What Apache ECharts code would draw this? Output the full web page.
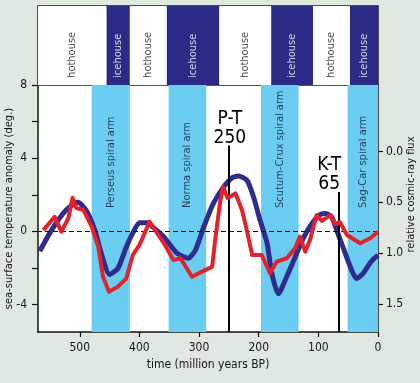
<!DOCTYPE html>
<html>
<head>
<meta charset="utf-8">
<script src="https://cdn.jsdelivr.net/npm/echarts@6/dist/echarts.min.js"></script>
<style>
html,body{margin:0;padding:0;background:#dfe9df;}
#chart{width:420px;height:383px;}
</style>
</head>
<body>
<div id="chart"></div>
<script>
// ---- data ----
const ageTicks = [0, 100, 200, 300, 400, 500];
const tempTicks = [-4, -2, 0, 2, 4, 6, 8];
const tempLabels = [-4, 0, 4, 8];
const fluxTicks = [0, 0.5, 1.0, 1.5];

const climateBounds = [570, 455, 416, 354, 266, 179, 109, 47, 0];
const climateStates = ['hothouse', 'icehouse', 'hothouse', 'icehouse', 'hothouse', 'icehouse', 'hothouse', 'icehouse'];

const armStart = [480, 351, 196, 51];
const armEnd = [416, 288, 133, 0];
const armNames = ['Perseus spiral arm', 'Norma spiral arm', 'Scutum-Crux spiral arm', 'Sag-Car spiral arm'];

const eventAges = [250, 65];
const eventNames = ['P-T', 'K-T'];

// red: sea-surface temperature anomaly (deg.)
const redAge = [561, 542, 531, 519, 512, 506, 494, 480, 469, 461, 451, 436, 422, 411, 400, 383, 359, 343, 331, 312, 295, 278, 273, 265, 260, 252, 239, 228, 220, 211, 195, 181, 170, 153, 139, 131, 122, 114, 103, 94, 80, 72, 64, 52, 30, 13, 0];
const redTemp = [0.07, 0.79, -0.02, 0.73, 1.84, 1.28, 1.17, 0.26, -0.84, -2.48, -3.30, -3.02, -2.57, -1.29, -0.75, 0.53, -0.64, -1.57, -1.47, -2.48, -2.20, -1.93, -0.47, 1.53, 2.44, 1.81, 2.08, 1.17, 0.07, -1.29, -1.29, -2.29, -1.66, -1.47, -0.93, -0.29, -1.11, -0.47, 0.89, 0.57, 0.89, 0.40, 0.51, -0.20, -0.65, -0.38, -0.02];

// blue: relative cosmic-ray flux (inverted right axis)
const blueAge = [567, 550, 528, 514, 503, 489, 475, 464, 450, 436, 422, 411, 400, 386, 382, 359, 337, 318, 306, 292, 276, 259, 245, 234, 220, 209, 198, 186, 178, 167, 153, 139, 125, 111, 97, 89, 78, 67, 55, 44, 36, 25, 11, 0];
const blueFlux = [0.98, 0.80, 0.61, 0.53, 0.50, 0.58, 0.77, 1.00, 1.21, 1.15, 0.94, 0.80, 0.70, 0.70, 0.72, 0.84, 1.00, 1.05, 0.97, 0.74, 0.51, 0.35, 0.26, 0.24, 0.28, 0.44, 0.67, 0.90, 1.20, 1.40, 1.23, 1.04, 0.85, 0.71, 0.62, 0.61, 0.64, 0.81, 1.00, 1.17, 1.25, 1.20, 1.08, 1.02];

// ---- build ----
const FONT = "'DejaVu Sans Condensed', 'Liberation Sans Narrow', sans-serif";
const TXT = '#161616';
const NAVY = '#2b2a86';
const ARM = '#6ccdf2';

const climateAreas = climateStates.map((s, i) => [
  { xAxis: climateBounds[i], itemStyle: { color: s === 'icehouse' ? NAVY : '#ffffff' } },
  { xAxis: climateBounds[i + 1] }
]);
const climateLabels = climateStates.map((s, i) => ({
  value: [(climateBounds[i] + climateBounds[i + 1]) / 2, 0.09],
  label: { color: s === 'icehouse' ? '#ffffff' : TXT }
}));

const armAreas = armNames.map((n, i) => [{ xAxis: armStart[i] }, { xAxis: armEnd[i] }]);
const armLabels = armNames.map((n, i) => ({ value: [(armStart[i] + armEnd[i]) / 2, 1.28], name: n }));

const eventLineTop = [4.7, 2.15];
const eventLines = eventAges.map((a, i) => [
  { coord: [a, -5.5] },
  { coord: [a, eventLineTop[i]], name: eventNames[i] + '\n' + a,
    label: { offset: i === 1 ? [-10, 0] : [1, 0] } }
]);

const chart = echarts.init(document.getElementById('chart'), null, { renderer: 'canvas' });
chart.setOption({
  backgroundColor: '#dfe9df',
  animation: false,
  textStyle: { fontFamily: FONT },
  grid: [
    { left: 38, right: 42, top: 85, bottom: 51, show: true, backgroundColor: '#ffffff', borderWidth: 0, outerBoundsMode: 'none', containLabel: false },
    { left: 38, right: 42, top: 6, height: 79, show: true, backgroundColor: '#ffffff', borderColor: '#1a1a1a', borderWidth: 1.5, outerBoundsMode: 'none', containLabel: false }
  ],
  xAxis: [
    {
      type: 'value', gridIndex: 0, min: 0, max: 570, inverse: true,
      name: 'time (million years BP)', nameLocation: 'middle', nameGap: 27, nameMoveOverlap: false,
      nameTextStyle: { fontSize: 12, color: TXT, fontFamily: FONT },
      axisLine: { show: true, onZero: false, lineStyle: { color: '#111', width: 1.5 } },
      axisTick: { show: true, length: 5, lineStyle: { color: '#111', width: 1.2 }, customValues: ageTicks },
      axisLabel: { fontSize: 12, color: TXT, margin: 10, fontFamily: FONT, customValues: ageTicks },
      splitLine: { show: false }
    },
    { type: 'value', gridIndex: 1, min: 0, max: 570, inverse: true, show: false, splitLine: { show: false } }
  ],
  yAxis: [
    {
      type: 'value', gridIndex: 0, min: -5.5, max: 8, position: 'left',
      name: 'sea-surface temperature anomaly (deg.)', nameLocation: 'middle', nameGap: 23, nameMoveOverlap: false,
      nameTextStyle: { fontSize: 11, color: TXT, fontFamily: FONT },
      axisLine: { show: true, onZero: false, lineStyle: { color: '#111', width: 1.5 } },
      axisTick: { show: true, length: 6, lineStyle: { color: '#111', width: 1.2 }, customValues: tempTicks },
      axisLabel: { fontSize: 12, color: TXT, margin: 11, fontFamily: FONT, customValues: tempLabels },
      splitLine: { show: false }
    },
    {
      type: 'value', gridIndex: 0, min: -0.655, max: 1.776, inverse: true, position: 'right',
      name: 'relative cosmic-ray flux', nameLocation: 'middle', nameGap: 28, nameMoveOverlap: false,
      nameTextStyle: { fontSize: 11, color: TXT, fontFamily: FONT, padding: [0, 0, 0, 28] },
      axisLine: { show: true, onZero: false, lineStyle: { color: '#111', width: 1.5 } },
      axisTick: { show: true, length: 5, lineStyle: { color: '#111', width: 1.2 }, customValues: fluxTicks },
      axisLabel: { fontSize: 12, color: TXT, margin: 8, fontFamily: FONT, customValues: fluxTicks,
        formatter: v => v.toFixed(1) },
      splitLine: { show: false }
    },
    { type: 'value', gridIndex: 1, min: 0, max: 1, show: false, splitLine: { show: false } }
  ],
  series: [
    {
      name: 'climate', type: 'scatter', xAxisIndex: 1, yAxisIndex: 2, symbolSize: 0, z: 1,
      data: climateLabels,
      label: { show: true, position: 'inside', rotate: 90, align: 'left', verticalAlign: 'middle',
        fontSize: 11, fontFamily: FONT, formatter: p => climateStates[p.dataIndex] },
      markArea: { silent: true, data: climateAreas }
    },
    {
      name: 'arms', type: 'scatter', xAxisIndex: 0, yAxisIndex: 0, symbolSize: 0, z: 1,
      data: armLabels,
      label: { show: true, position: 'inside', rotate: 90, align: 'left', verticalAlign: 'middle',
        fontSize: 11, fontFamily: FONT, color: '#101835', formatter: p => p.name },
      markArea: { silent: true, itemStyle: { color: ARM }, data: armAreas }
    },
    {
      name: 'zero', type: 'line', xAxisIndex: 0, yAxisIndex: 0, data: [], z: 2,
      markLine: { silent: true, symbol: ['none', 'none'], label: { show: false },
        lineStyle: { color: '#111', type: [5, 3], width: 1.2 }, data: [{ yAxis: 0 }] }
    },
    {
      name: 'events', type: 'line', xAxisIndex: 0, yAxisIndex: 0, data: [], z: 3,
      markLine: { silent: true, symbol: ['none', 'none'],
        lineStyle: { color: '#000', type: 'solid', width: 2 },
        label: { show: true, position: 'end', formatter: p => p.name, fontSize: 19, lineHeight: 19,
          color: '#000', fontFamily: FONT, distance: -2 },
        data: eventLines }
    },
    {
      name: 'cosmic-ray flux', type: 'line', xAxisIndex: 0, yAxisIndex: 1, z: 4,
      data: blueAge.map((a, i) => [a, blueFlux[i]]),
      showSymbol: false, smooth: 0.2,
      lineStyle: { color: '#2e2d8f', width: 5, join: 'round' }
    },
    {
      name: 'temperature', type: 'line', xAxisIndex: 0, yAxisIndex: 0, z: 5,
      data: redAge.map((a, i) => [a, redTemp[i]]),
      showSymbol: false,
      lineStyle: { color: '#e4222a', width: 4, join: 'round' }
    }
  ]
});
</script>
</body>
</html>
